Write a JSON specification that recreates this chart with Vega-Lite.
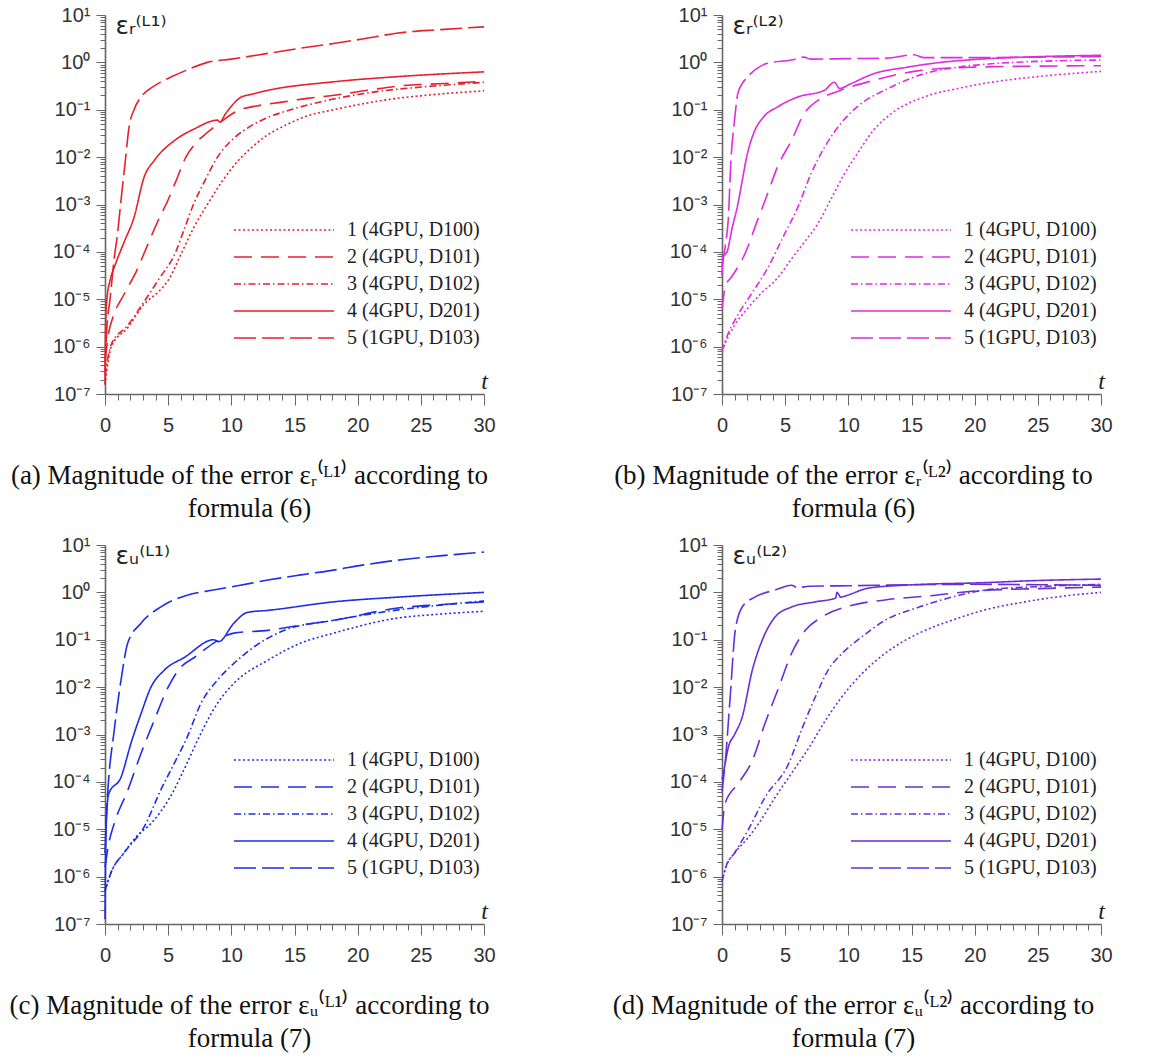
{
  "$schema": "https://vega.github.io/schema/vega-lite/v6.json",
  "background": "white",
  "padding": {"left": 9, "top": 5, "right": 5, "bottom": 5},
  "columns": 2,
  "spacing": {"row": 151, "column": 238},
  "bounds": "flush",
  "config": {
    "view": {"stroke": null},
    "axis": {"labelFont": "Liberation Sans", "labelFontSize": 20, "labelColor": "#333", "domainColor": "#666", "domainWidth": 1.6, "tickColor": "#666", "tickWidth": 1, "grid": false, "labelOverlap": false, "labelFlush": false, "titleFontWeight": "normal", "titleColor": "#222"},
    "title": {"font": "Liberation Serif", "fontSize": 27, "fontWeight": "normal", "color": "#111", "lineHeight": 33},
    "line": {"interpolate": "monotone", "strokeWidth": 1.6}
  },
  "resolve": {"scale": {"strokeDash": "independent"}, "legend": {"strokeDash": "independent"}},
  "datasets": {
    "a": [
      {"s":"1","t":0,"v":1.58e-7},{"s":"1","t":0.2,"v":3.98e-7},{"s":"1","t":0.5,"v":1.0e-6},{"s":"1","t":1.8,"v":2.51e-6},{"s":"1","t":3.1,"v":7.94e-6},{"s":"1","t":4.2,"v":1.41e-5},{"s":"1","t":5,"v":2.51e-5},{"s":"1","t":6.1,"v":1.0e-4},{"s":"1","t":7,"v":3.16e-4},{"s":"1","t":8.1,"v":1.0e-3},{"s":"1","t":9.3,"v":3.16e-3},{"s":"1","t":10.8,"v":1.0e-2},{"s":"1","t":11.6,"v":1.58e-2},{"s":"1","t":12.5,"v":2.51e-2},{"s":"1","t":14.5,"v":5.01e-2},{"s":"1","t":16,"v":7.4e-2},{"s":"1","t":18.1,"v":0.1},{"s":"1","t":22,"v":0.158},{"s":"1","t":26,"v":0.209},{"s":"1","t":30,"v":0.251},
      {"s":"2","t":0,"v":5.01e-7},{"s":"2","t":0.3,"v":2.0e-6},{"s":"2","t":0.6,"v":3.98e-6},{"s":"2","t":1.5,"v":1.26e-5},{"s":"2","t":2.5,"v":3.98e-5},{"s":"2","t":3.3,"v":1.26e-4},{"s":"2","t":4.1,"v":3.98e-4},{"s":"2","t":5,"v":1.26e-3},{"s":"2","t":5.7,"v":3.55e-3},{"s":"2","t":6.4,"v":1.0e-2},{"s":"2","t":7.2,"v":2.0e-2},{"s":"2","t":8.1,"v":3.31e-2},{"s":"2","t":9.2,"v":5.62e-2},{"s":"2","t":10.5,"v":9.55e-2},{"s":"2","t":12,"v":0.12},{"s":"2","t":14,"v":0.145},{"s":"2","t":16,"v":0.174},{"s":"2","t":18,"v":0.2},{"s":"2","t":20.5,"v":0.251},{"s":"2","t":23.2,"v":0.316},{"s":"2","t":26.5,"v":0.355},{"s":"2","t":30,"v":0.398},
      {"s":"3","t":0,"v":2.51e-7},{"s":"3","t":0.5,"v":1.12e-6},{"s":"3","t":1.8,"v":2.82e-6},{"s":"3","t":3.1,"v":8.91e-6},{"s":"3","t":4.2,"v":2.51e-5},{"s":"3","t":5.6,"v":1.0e-4},{"s":"3","t":6.3,"v":3.16e-4},{"s":"3","t":7,"v":1.0e-3},{"s":"3","t":7.9,"v":3.16e-3},{"s":"3","t":8.9,"v":1.0e-2},{"s":"3","t":10,"v":2.24e-2},{"s":"3","t":11.5,"v":4.47e-2},{"s":"3","t":13,"v":7.08e-2},{"s":"3","t":14.7,"v":0.1},{"s":"3","t":18,"v":0.166},{"s":"3","t":22,"v":0.251},{"s":"3","t":26,"v":0.316},{"s":"3","t":30,"v":0.38},
      {"s":"4","t":0,"v":1.58e-7},{"s":"4","t":0.05,"v":3.16e-6},{"s":"4","t":0.15,"v":1.0e-5},{"s":"4","t":0.4,"v":2.51e-5},{"s":"4","t":0.73,"v":4.68e-5},{"s":"4","t":1.5,"v":1.58e-4},{"s":"4","t":2.3,"v":5.37e-4},{"s":"4","t":3.1,"v":3.8e-3},{"s":"4","t":3.9,"v":8.51e-3},{"s":"4","t":5.5,"v":2.24e-2},{"s":"4","t":7.1,"v":3.98e-2},{"s":"4","t":8.9,"v":6.03e-2},{"s":"4","t":9.1,"v":5.5e-2},{"s":"4","t":9.5,"v":7.94e-2},{"s":"4","t":10.8,"v":0.186},{"s":"4","t":11.5,"v":0.209},{"s":"4","t":12.9,"v":0.257},{"s":"4","t":18.1,"v":0.389},{"s":"4","t":23.2,"v":0.501},{"s":"4","t":30,"v":0.631},
      {"s":"5","t":0,"v":3.16e-7},{"s":"5","t":0.15,"v":2.51e-6},{"s":"5","t":0.4,"v":1.0e-5},{"s":"5","t":0.7,"v":6.31e-5},{"s":"5","t":1,"v":2.51e-4},{"s":"5","t":1.27,"v":1.26e-3},{"s":"5","t":1.6,"v":7.94e-3},{"s":"5","t":1.9,"v":4.27e-2},{"s":"5","t":2.3,"v":0.1},{"s":"5","t":2.85,"v":0.186},{"s":"5","t":3.5,"v":0.269},{"s":"5","t":4.2,"v":0.355},{"s":"5","t":5.3,"v":0.501},{"s":"5","t":6.5,"v":0.692},{"s":"5","t":8.1,"v":1.0},{"s":"5","t":10,"v":1.17},{"s":"5","t":12.9,"v":1.55},{"s":"5","t":15.5,"v":2.0},{"s":"5","t":18.1,"v":2.51},{"s":"5","t":20.5,"v":3.16},{"s":"5","t":23.2,"v":4.17},{"s":"5","t":26.5,"v":4.9},{"s":"5","t":30,"v":5.62}
    ],
    "b": [
      {"s":"1","t":0,"v":7.94e-7},{"s":"1","t":0.3,"v":1.26e-6},{"s":"1","t":1,"v":2.82e-6},{"s":"1","t":2,"v":6.31e-6},{"s":"1","t":3,"v":1.26e-5},{"s":"1","t":4.4,"v":2.82e-5},{"s":"1","t":5.5,"v":7.08e-5},{"s":"1","t":6.5,"v":1.58e-4},{"s":"1","t":7.6,"v":3.98e-4},{"s":"1","t":8.6,"v":1.26e-3},{"s":"1","t":9.7,"v":4.47e-3},{"s":"1","t":10.7,"v":1.17e-2},{"s":"1","t":12,"v":3.72e-2},{"s":"1","t":13.4,"v":8.32e-2},{"s":"1","t":16,"v":0.186},{"s":"1","t":18.7,"v":0.282},{"s":"1","t":21.3,"v":0.38},{"s":"1","t":25,"v":0.501},{"s":"1","t":30,"v":0.646},
      {"s":"2","t":0,"v":6.31e-6},{"s":"2","t":0.3,"v":2.0e-5},{"s":"2","t":0.7,"v":2.82e-5},{"s":"2","t":1.8,"v":8.91e-5},{"s":"2","t":2.8,"v":4.57e-4},{"s":"2","t":3.6,"v":1.66e-3},{"s":"2","t":4.4,"v":6.31e-3},{"s":"2","t":5.5,"v":2.24e-2},{"s":"2","t":6.5,"v":8.32e-2},{"s":"2","t":7.6,"v":0.158},{"s":"2","t":9.4,"v":0.257},{"s":"2","t":12,"v":0.417},{"s":"2","t":16,"v":0.692},{"s":"2","t":20,"v":0.794},{"s":"2","t":25,"v":0.832},{"s":"2","t":30,"v":0.851},
      {"s":"3","t":0,"v":7.94e-7},{"s":"3","t":0.3,"v":1.41e-6},{"s":"3","t":1,"v":3.55e-6},{"s":"3","t":2.3,"v":1.26e-5},{"s":"3","t":3.6,"v":4.47e-5},{"s":"3","t":4.9,"v":2.24e-4},{"s":"3","t":6,"v":8.71e-4},{"s":"3","t":7.05,"v":4.47e-3},{"s":"3","t":8.1,"v":1.58e-2},{"s":"3","t":9.4,"v":5.13e-2},{"s":"3","t":10.7,"v":0.115},{"s":"3","t":13.4,"v":0.302},{"s":"3","t":16,"v":0.575},{"s":"3","t":18.7,"v":0.794},{"s":"3","t":21.3,"v":0.933},{"s":"3","t":25,"v":1.05},{"s":"3","t":30,"v":1.12},
      {"s":"4","t":0,"v":3.16e-5},{"s":"4","t":0.1,"v":7.94e-5},{"s":"4","t":0.4,"v":1.0e-4},{"s":"4","t":0.8,"v":3.16e-4},{"s":"4","t":1.25,"v":1.0e-3},{"s":"4","t":1.6,"v":3.16e-3},{"s":"4","t":1.95,"v":1.0e-2},{"s":"4","t":2.5,"v":3.16e-2},{"s":"4","t":3.3,"v":7.08e-2},{"s":"4","t":4.4,"v":0.115},{"s":"4","t":6,"v":0.186},{"s":"4","t":8.1,"v":0.257},{"s":"4","t":8.9,"v":0.38},{"s":"4","t":9.3,"v":0.282},{"s":"4","t":10.2,"v":0.355},{"s":"4","t":12,"v":0.575},{"s":"4","t":14.7,"v":0.794},{"s":"4","t":17.3,"v":1.0},{"s":"4","t":20,"v":1.15},{"s":"4","t":25,"v":1.32},{"s":"4","t":30,"v":1.41},
      {"s":"5","t":0,"v":5.01e-5},{"s":"5","t":0.3,"v":1.58e-4},{"s":"5","t":0.5,"v":5.01e-4},{"s":"5","t":0.7,"v":7.94e-3},{"s":"5","t":1,"v":6.31e-2},{"s":"5","t":1.25,"v":0.219},{"s":"5","t":1.6,"v":0.355},{"s":"5","t":2.05,"v":0.501},{"s":"5","t":2.8,"v":0.759},{"s":"5","t":3.6,"v":0.955},{"s":"5","t":5.5,"v":1.12},{"s":"5","t":6.5,"v":1.29},{"s":"5","t":7,"v":1.17},{"s":"5","t":10,"v":1.2},{"s":"5","t":13,"v":1.23},{"s":"5","t":15.2,"v":1.45},{"s":"5","t":16,"v":1.26},{"s":"5","t":20,"v":1.26},{"s":"5","t":25,"v":1.29},{"s":"5","t":30,"v":1.32}
    ],
    "c": [
      {"s":"1","t":0,"v":5.01e-7},{"s":"1","t":0.5,"v":1.26e-6},{"s":"1","t":1.5,"v":3.16e-6},{"s":"1","t":2.5,"v":7.08e-6},{"s":"1","t":3.64,"v":1.32e-5},{"s":"1","t":5.2,"v":5.01e-5},{"s":"1","t":6.5,"v":2.51e-4},{"s":"1","t":7.6,"v":1.07e-3},{"s":"1","t":8.9,"v":4.57e-3},{"s":"1","t":10.2,"v":1.2e-2},{"s":"1","t":12.9,"v":3.72e-2},{"s":"1","t":15.5,"v":8.51e-2},{"s":"1","t":18.1,"v":0.138},{"s":"1","t":23.2,"v":0.288},{"s":"1","t":26.5,"v":0.347},{"s":"1","t":30,"v":0.398},
      {"s":"2","t":0,"v":1.58e-6},{"s":"2","t":0.3,"v":5.01e-6},{"s":"2","t":0.73,"v":1.32e-5},{"s":"2","t":1.8,"v":6.61e-5},{"s":"2","t":2.85,"v":3.98e-4},{"s":"2","t":3.9,"v":2.0e-3},{"s":"2","t":5,"v":1.0e-2},{"s":"2","t":6,"v":2.63e-2},{"s":"2","t":7.1,"v":4.27e-2},{"s":"2","t":8.6,"v":8.51e-2},{"s":"2","t":10.2,"v":0.138},{"s":"2","t":12.9,"v":0.158},{"s":"2","t":15.5,"v":0.204},{"s":"2","t":18.1,"v":0.257},{"s":"2","t":23.2,"v":0.468},{"s":"2","t":26.5,"v":0.55},{"s":"2","t":30,"v":0.631},
      {"s":"3","t":0,"v":5.01e-7},{"s":"3","t":0.5,"v":1.26e-6},{"s":"3","t":1.5,"v":3.16e-6},{"s":"3","t":3.1,"v":1.12e-5},{"s":"3","t":4.4,"v":6.61e-5},{"s":"3","t":5.5,"v":2.51e-4},{"s":"3","t":6.5,"v":8.71e-4},{"s":"3","t":7.6,"v":4.57e-3},{"s":"3","t":8.9,"v":1.41e-2},{"s":"3","t":10.2,"v":3.16e-2},{"s":"3","t":11.8,"v":7.08e-2},{"s":"3","t":14.2,"v":0.158},{"s":"3","t":18.1,"v":0.257},{"s":"3","t":23.2,"v":0.427},{"s":"3","t":26.5,"v":0.537},{"s":"3","t":30,"v":0.661},
      {"s":"4","t":0,"v":1.26e-7},{"s":"4","t":0.05,"v":3.16e-6},{"s":"4","t":0.15,"v":2.51e-5},{"s":"4","t":0.3,"v":5.62e-5},{"s":"4","t":1.27,"v":1.26e-4},{"s":"4","t":2.05,"v":6.46e-4},{"s":"4","t":2.85,"v":2.75e-3},{"s":"4","t":3.64,"v":1.0e-2},{"s":"4","t":4.7,"v":2.29e-2},{"s":"4","t":6.3,"v":4.27e-2},{"s":"4","t":8.6,"v":0.1},{"s":"4","t":9,"v":0.0912},{"s":"4","t":10.2,"v":0.224},{"s":"4","t":11.3,"v":0.38},{"s":"4","t":12.9,"v":0.417},{"s":"4","t":18.1,"v":0.631},{"s":"4","t":23.2,"v":0.794},{"s":"4","t":30,"v":1.0},
      {"s":"5","t":0,"v":3.16e-6},{"s":"5","t":0.1,"v":1.58e-5},{"s":"5","t":0.2,"v":5.01e-5},{"s":"5","t":0.73,"v":1.23e-3},{"s":"5","t":1.27,"v":1.41e-2},{"s":"5","t":1.8,"v":8.51e-2},{"s":"5","t":2.85,"v":0.224},{"s":"5","t":4.4,"v":0.49},{"s":"5","t":6.5,"v":0.871},{"s":"5","t":8.6,"v":1.12},{"s":"5","t":10.5,"v":1.38},{"s":"5","t":12.9,"v":1.82},{"s":"5","t":15.5,"v":2.34},{"s":"5","t":18.1,"v":2.95},{"s":"5","t":20.5,"v":3.8},{"s":"5","t":23.2,"v":4.79},{"s":"5","t":26.5,"v":5.89},{"s":"5","t":30,"v":7.08}
    ],
    "d": [
      {"s":"1","t":0,"v":7.94e-7},{"s":"1","t":0.3,"v":1.58e-6},{"s":"1","t":1,"v":3.16e-6},{"s":"1","t":2,"v":6.31e-6},{"s":"1","t":2.9,"v":1.32e-5},{"s":"1","t":4.2,"v":4.68e-5},{"s":"1","t":5.5,"v":1.51e-4},{"s":"1","t":6.9,"v":5.37e-4},{"s":"1","t":8.2,"v":2.0e-3},{"s":"1","t":9.5,"v":6.31e-3},{"s":"1","t":11.1,"v":1.95e-2},{"s":"1","t":12.9,"v":5.13e-2},{"s":"1","t":15.6,"v":0.138},{"s":"1","t":18.2,"v":0.257},{"s":"1","t":20.8,"v":0.427},{"s":"1","t":24,"v":0.631},{"s":"1","t":27,"v":0.832},{"s":"1","t":30,"v":1.0},
      {"s":"2","t":0,"v":1.0e-5},{"s":"2","t":0.25,"v":3.55e-5},{"s":"2","t":1.3,"v":9.33e-5},{"s":"2","t":2.4,"v":2.82e-4},{"s":"2","t":3.4,"v":1.7e-3},{"s":"2","t":4.5,"v":1.0e-2},{"s":"2","t":5.5,"v":5.13e-2},{"s":"2","t":6.6,"v":0.158},{"s":"2","t":7.9,"v":0.302},{"s":"2","t":10.3,"v":0.537},{"s":"2","t":12.9,"v":0.692},{"s":"2","t":16.9,"v":0.871},{"s":"2","t":20,"v":1.07},{"s":"2","t":25,"v":1.2},{"s":"2","t":30,"v":1.29},
      {"s":"3","t":0,"v":7.94e-7},{"s":"3","t":0.3,"v":1.58e-6},{"s":"3","t":1,"v":3.16e-6},{"s":"3","t":2.1,"v":1.0e-5},{"s":"3","t":3.4,"v":4.68e-5},{"s":"3","t":5.3,"v":2.51e-4},{"s":"3","t":6.3,"v":1.26e-3},{"s":"3","t":7.4,"v":6.31e-3},{"s":"3","t":8.4,"v":2.29e-2},{"s":"3","t":9.5,"v":5.13e-2},{"s":"3","t":11.1,"v":0.117},{"s":"3","t":12.9,"v":0.257},{"s":"3","t":15.6,"v":0.49},{"s":"3","t":18.2,"v":0.794},{"s":"3","t":20.8,"v":1.12},{"s":"3","t":25,"v":1.32},{"s":"3","t":30,"v":1.48},
      {"s":"4","t":0,"v":1.12e-4},{"s":"4","t":0.15,"v":1.74e-4},{"s":"4","t":0.5,"v":5.37e-4},{"s":"4","t":1,"v":1.0e-3},{"s":"4","t":1.6,"v":2.34e-3},{"s":"4","t":2.4,"v":2.29e-2},{"s":"4","t":3.2,"v":0.1},{"s":"4","t":4.2,"v":0.302},{"s":"4","t":5.5,"v":0.49},{"s":"4","t":7.4,"v":0.631},{"s":"4","t":9,"v":0.759},{"s":"4","t":9.1,"v":1.0},{"s":"4","t":9.4,"v":0.794},{"s":"4","t":9.7,"v":0.832},{"s":"4","t":11.6,"v":1.23},{"s":"4","t":14.3,"v":1.41},{"s":"4","t":16.9,"v":1.51},{"s":"4","t":20,"v":1.58},{"s":"4","t":25,"v":1.78},{"s":"4","t":30,"v":1.91},
      {"s":"5","t":0,"v":6.31e-5},{"s":"5","t":0.25,"v":2.51e-4},{"s":"5","t":0.65,"v":6.31e-3},{"s":"5","t":1.05,"v":0.158},{"s":"5","t":1.6,"v":0.49},{"s":"5","t":2.6,"v":0.794},{"s":"5","t":4.2,"v":1.12},{"s":"5","t":5.5,"v":1.41},{"s":"5","t":6,"v":1.26},{"s":"5","t":6.9,"v":1.35},{"s":"5","t":10,"v":1.38},{"s":"5","t":15,"v":1.45},{"s":"5","t":20,"v":1.48},{"s":"5","t":25,"v":1.45},{"s":"5","t":30,"v":1.41}
    ]
  },
  "concat": [
    {
      "width": 379, "height": 379,
      "data": {"name": "a"},
      "title": {"text": ["(a) Magnitude of the error εᵣ⁽ᴸ¹⁾ according to", "formula (6)"], "orient": "bottom", "anchor": "middle", "frame": "group", "dx": -45, "offset": 28},
      "mark": {"type": "line", "color": "#e8202a"},
      "encoding": {
        "x": {"field": "t", "type": "quantitative", "scale": {"domain": [0, 30], "nice": false, "zero": false},
          "axis": {"values": [0,1,2,3,4,5,6,7,8,9,10,11,12,13,14,15,16,17,18,19,20,21,22,23,24,25,26,27,28,29,30], "labelExpr": "datum.value % 5 === 0 ? datum.label : ''", "tickSize": {"condition": {"test": "datum.value % 5 === 0", "value": 11}, "value": 6}, "labelPadding": 10, "title": "t", "titleFont": "Liberation Serif", "titleFontStyle": "italic", "titleFontSize": 24, "titleX": 379, "titleY": -6, "titleAlign": "center", "titleBaseline": "alphabetic", "titleAngle": 0}},
        "y": {"field": "v", "type": "quantitative", "scale": {"type": "log", "domain": [1e-7, 10], "nice": false},
          "axis": {"values": [1e-7,2e-7,3e-7,4e-7,5e-7,6e-7,7e-7,8e-7,9e-7,1e-6,2e-6,3e-6,4e-6,5e-6,6e-6,7e-6,8e-6,9e-6,1e-5,2e-5,3e-5,4e-5,5e-5,6e-5,7e-5,8e-5,9e-5,1e-4,2e-4,3e-4,4e-4,5e-4,6e-4,7e-4,8e-4,9e-4,0.001,0.002,0.003,0.004,0.005,0.006,0.007,0.008,0.009,0.01,0.02,0.03,0.04,0.05,0.06,0.07,0.08,0.09,0.1,0.2,0.3,0.4,0.5,0.6,0.7,0.8,0.9,1,2,3,4,5,6,7,8,9,10], "labelExpr": "abs(log(datum.value)/LN10 - round(log(datum.value)/LN10)) < 0.001 ? '10' + ['⁻⁷','⁻⁶','⁻⁵','⁻⁴','⁻³','⁻²','⁻¹','⁰','¹'][round(log(datum.value)/LN10)+7] : ''", "tickSize": {"condition": {"test": "abs(log(datum.value)/LN10 - round(log(datum.value)/LN10)) < 0.001", "value": 9}, "value": 5}, "labelPadding": 6, "title": "εᵣ⁽ᴸ¹⁾", "titleFont": "DejaVu Sans", "titleFontSize": 25, "titleAngle": 0, "titleX": 10, "titleY": 18, "titleAlign": "left", "titleBaseline": "alphabetic"}},
        "strokeDash": {"field": "s", "type": "nominal", "scale": {"domain": ["1","2","3","4","5"], "range": [[2,2.5],[18,9],[7,3,1.5,3],[1,0],[22,6]]},
          "legend": {"orient": "none", "legendX": 128, "legendY": 205, "title": null, "symbolType": "stroke", "symbolSize": 10000, "symbolStrokeWidth": 2, "symbolStrokeColor": "#e8202a", "clipHeight": 20, "rowPadding": 7, "labelFont": "Liberation Serif", "labelFontSize": 20, "labelColor": "#222", "labelOffset": 12, "labelLimit": 300, "labelExpr": "['','1  (4GPU, D100)','2  (4GPU, D101)','3  (4GPU, D102)','4  (4GPU, D201)','5  (1GPU, D103)'][toNumber(datum.value)]"}}
      }
    },
    {
      "width": 379, "height": 379,
      "data": {"name": "b"},
      "title": {"text": ["(b) Magnitude of the error εᵣ⁽ᴸ²⁾ according to", "formula (6)"], "orient": "bottom", "anchor": "middle", "frame": "group", "dx": -58, "offset": 28},
      "mark": {"type": "line", "color": "#e02be0"},
      "encoding": {
        "x": {"field": "t", "type": "quantitative", "scale": {"domain": [0, 30], "nice": false, "zero": false},
          "axis": {"values": [0,1,2,3,4,5,6,7,8,9,10,11,12,13,14,15,16,17,18,19,20,21,22,23,24,25,26,27,28,29,30], "labelExpr": "datum.value % 5 === 0 ? datum.label : ''", "tickSize": {"condition": {"test": "datum.value % 5 === 0", "value": 11}, "value": 6}, "labelPadding": 10, "title": "t", "titleFont": "Liberation Serif", "titleFontStyle": "italic", "titleFontSize": 24, "titleX": 379, "titleY": -6, "titleAlign": "center", "titleBaseline": "alphabetic", "titleAngle": 0}},
        "y": {"field": "v", "type": "quantitative", "scale": {"type": "log", "domain": [1e-7, 10], "nice": false},
          "axis": {"values": [1e-7,2e-7,3e-7,4e-7,5e-7,6e-7,7e-7,8e-7,9e-7,1e-6,2e-6,3e-6,4e-6,5e-6,6e-6,7e-6,8e-6,9e-6,1e-5,2e-5,3e-5,4e-5,5e-5,6e-5,7e-5,8e-5,9e-5,1e-4,2e-4,3e-4,4e-4,5e-4,6e-4,7e-4,8e-4,9e-4,0.001,0.002,0.003,0.004,0.005,0.006,0.007,0.008,0.009,0.01,0.02,0.03,0.04,0.05,0.06,0.07,0.08,0.09,0.1,0.2,0.3,0.4,0.5,0.6,0.7,0.8,0.9,1,2,3,4,5,6,7,8,9,10], "labelExpr": "abs(log(datum.value)/LN10 - round(log(datum.value)/LN10)) < 0.001 ? '10' + ['⁻⁷','⁻⁶','⁻⁵','⁻⁴','⁻³','⁻²','⁻¹','⁰','¹'][round(log(datum.value)/LN10)+7] : ''", "tickSize": {"condition": {"test": "abs(log(datum.value)/LN10 - round(log(datum.value)/LN10)) < 0.001", "value": 9}, "value": 5}, "labelPadding": 6, "title": "εᵣ⁽ᴸ²⁾", "titleFont": "DejaVu Sans", "titleFontSize": 25, "titleAngle": 0, "titleX": 10, "titleY": 18, "titleAlign": "left", "titleBaseline": "alphabetic"}},
        "strokeDash": {"field": "s", "type": "nominal", "scale": {"domain": ["1","2","3","4","5"], "range": [[2,2.5],[18,9],[7,3,1.5,3],[1,0],[22,6]]},
          "legend": {"orient": "none", "legendX": 128, "legendY": 205, "title": null, "symbolType": "stroke", "symbolSize": 10000, "symbolStrokeWidth": 2, "symbolStrokeColor": "#e02be0", "clipHeight": 20, "rowPadding": 7, "labelFont": "Liberation Serif", "labelFontSize": 20, "labelColor": "#222", "labelOffset": 12, "labelLimit": 300, "labelExpr": "['','1  (4GPU, D100)','2  (4GPU, D101)','3  (4GPU, D102)','4  (4GPU, D201)','5  (1GPU, D103)'][toNumber(datum.value)]"}}
      }
    },
    {
      "width": 379, "height": 379,
      "data": {"name": "c"},
      "title": {"text": ["(c) Magnitude of the error εᵤ⁽ᴸ¹⁾ according to", "formula (7)"], "orient": "bottom", "anchor": "middle", "frame": "group", "dx": -45, "offset": 28},
      "mark": {"type": "line", "color": "#1e2ee6"},
      "encoding": {
        "x": {"field": "t", "type": "quantitative", "scale": {"domain": [0, 30], "nice": false, "zero": false},
          "axis": {"values": [0,1,2,3,4,5,6,7,8,9,10,11,12,13,14,15,16,17,18,19,20,21,22,23,24,25,26,27,28,29,30], "labelExpr": "datum.value % 5 === 0 ? datum.label : ''", "tickSize": {"condition": {"test": "datum.value % 5 === 0", "value": 11}, "value": 6}, "labelPadding": 10, "title": "t", "titleFont": "Liberation Serif", "titleFontStyle": "italic", "titleFontSize": 24, "titleX": 379, "titleY": -6, "titleAlign": "center", "titleBaseline": "alphabetic", "titleAngle": 0}},
        "y": {"field": "v", "type": "quantitative", "scale": {"type": "log", "domain": [1e-7, 10], "nice": false},
          "axis": {"values": [1e-7,2e-7,3e-7,4e-7,5e-7,6e-7,7e-7,8e-7,9e-7,1e-6,2e-6,3e-6,4e-6,5e-6,6e-6,7e-6,8e-6,9e-6,1e-5,2e-5,3e-5,4e-5,5e-5,6e-5,7e-5,8e-5,9e-5,1e-4,2e-4,3e-4,4e-4,5e-4,6e-4,7e-4,8e-4,9e-4,0.001,0.002,0.003,0.004,0.005,0.006,0.007,0.008,0.009,0.01,0.02,0.03,0.04,0.05,0.06,0.07,0.08,0.09,0.1,0.2,0.3,0.4,0.5,0.6,0.7,0.8,0.9,1,2,3,4,5,6,7,8,9,10], "labelExpr": "abs(log(datum.value)/LN10 - round(log(datum.value)/LN10)) < 0.001 ? '10' + ['⁻⁷','⁻⁶','⁻⁵','⁻⁴','⁻³','⁻²','⁻¹','⁰','¹'][round(log(datum.value)/LN10)+7] : ''", "tickSize": {"condition": {"test": "abs(log(datum.value)/LN10 - round(log(datum.value)/LN10)) < 0.001", "value": 9}, "value": 5}, "labelPadding": 6, "title": "εᵤ⁽ᴸ¹⁾", "titleFont": "DejaVu Sans", "titleFontSize": 25, "titleAngle": 0, "titleX": 10, "titleY": 18, "titleAlign": "left", "titleBaseline": "alphabetic"}},
        "strokeDash": {"field": "s", "type": "nominal", "scale": {"domain": ["1","2","3","4","5"], "range": [[2,2.5],[18,9],[7,3,1.5,3],[1,0],[22,6]]},
          "legend": {"orient": "none", "legendX": 128, "legendY": 205, "title": null, "symbolType": "stroke", "symbolSize": 10000, "symbolStrokeWidth": 2, "symbolStrokeColor": "#1e2ee6", "clipHeight": 20, "rowPadding": 7, "labelFont": "Liberation Serif", "labelFontSize": 20, "labelColor": "#222", "labelOffset": 12, "labelLimit": 300, "labelExpr": "['','1  (4GPU, D100)','2  (4GPU, D101)','3  (4GPU, D102)','4  (4GPU, D201)','5  (1GPU, D103)'][toNumber(datum.value)]"}}
      }
    },
    {
      "width": 379, "height": 379,
      "data": {"name": "d"},
      "title": {"text": ["(d) Magnitude of the error εᵤ⁽ᴸ²⁾ according to", "formula (7)"], "orient": "bottom", "anchor": "middle", "frame": "group", "dx": -58, "offset": 28},
      "mark": {"type": "line", "color": "#6a2ed6"},
      "encoding": {
        "x": {"field": "t", "type": "quantitative", "scale": {"domain": [0, 30], "nice": false, "zero": false},
          "axis": {"values": [0,1,2,3,4,5,6,7,8,9,10,11,12,13,14,15,16,17,18,19,20,21,22,23,24,25,26,27,28,29,30], "labelExpr": "datum.value % 5 === 0 ? datum.label : ''", "tickSize": {"condition": {"test": "datum.value % 5 === 0", "value": 11}, "value": 6}, "labelPadding": 10, "title": "t", "titleFont": "Liberation Serif", "titleFontStyle": "italic", "titleFontSize": 24, "titleX": 379, "titleY": -6, "titleAlign": "center", "titleBaseline": "alphabetic", "titleAngle": 0}},
        "y": {"field": "v", "type": "quantitative", "scale": {"type": "log", "domain": [1e-7, 10], "nice": false},
          "axis": {"values": [1e-7,2e-7,3e-7,4e-7,5e-7,6e-7,7e-7,8e-7,9e-7,1e-6,2e-6,3e-6,4e-6,5e-6,6e-6,7e-6,8e-6,9e-6,1e-5,2e-5,3e-5,4e-5,5e-5,6e-5,7e-5,8e-5,9e-5,1e-4,2e-4,3e-4,4e-4,5e-4,6e-4,7e-4,8e-4,9e-4,0.001,0.002,0.003,0.004,0.005,0.006,0.007,0.008,0.009,0.01,0.02,0.03,0.04,0.05,0.06,0.07,0.08,0.09,0.1,0.2,0.3,0.4,0.5,0.6,0.7,0.8,0.9,1,2,3,4,5,6,7,8,9,10], "labelExpr": "abs(log(datum.value)/LN10 - round(log(datum.value)/LN10)) < 0.001 ? '10' + ['⁻⁷','⁻⁶','⁻⁵','⁻⁴','⁻³','⁻²','⁻¹','⁰','¹'][round(log(datum.value)/LN10)+7] : ''", "tickSize": {"condition": {"test": "abs(log(datum.value)/LN10 - round(log(datum.value)/LN10)) < 0.001", "value": 9}, "value": 5}, "labelPadding": 6, "title": "εᵤ⁽ᴸ²⁾", "titleFont": "DejaVu Sans", "titleFontSize": 25, "titleAngle": 0, "titleX": 10, "titleY": 18, "titleAlign": "left", "titleBaseline": "alphabetic"}},
        "strokeDash": {"field": "s", "type": "nominal", "scale": {"domain": ["1","2","3","4","5"], "range": [[2,2.5],[18,9],[7,3,1.5,3],[1,0],[22,6]]},
          "legend": {"orient": "none", "legendX": 128, "legendY": 205, "title": null, "symbolType": "stroke", "symbolSize": 10000, "symbolStrokeWidth": 2, "symbolStrokeColor": "#6a2ed6", "clipHeight": 20, "rowPadding": 7, "labelFont": "Liberation Serif", "labelFontSize": 20, "labelColor": "#222", "labelOffset": 12, "labelLimit": 300, "labelExpr": "['','1  (4GPU, D100)','2  (4GPU, D101)','3  (4GPU, D102)','4  (4GPU, D201)','5  (1GPU, D103)'][toNumber(datum.value)]"}}
      }
    }
  ]
}
